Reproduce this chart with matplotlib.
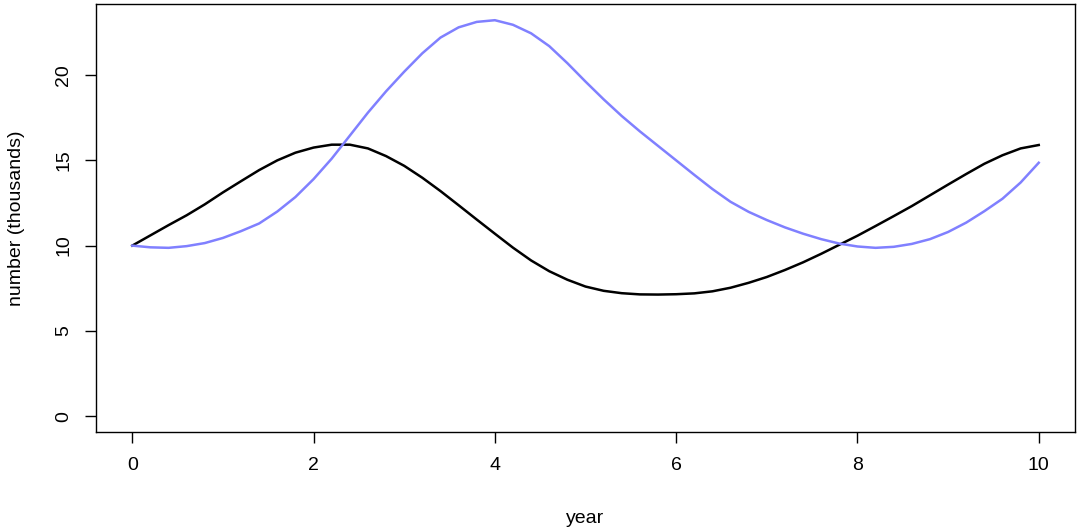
import numpy as np
import matplotlib
matplotlib.use("Agg")
import matplotlib.pyplot as plt

plt.rcParams["font.family"] = ["Liberation Sans", "DejaVu Sans"]
plt.rcParams["font.size"] = 14

# values, every 0.2 year
year = np.arange(0, 10.01, 0.2)
prey = [10.0, 10.6, 11.2, 11.78, 12.42, 13.12, 13.78, 14.43, 15.0, 15.45,
        15.75, 15.92, 15.92, 15.7, 15.25, 14.68, 13.98, 13.2, 12.37, 11.53,
        10.7, 9.88, 9.13, 8.5, 8.0, 7.6, 7.35, 7.21, 7.14, 7.13,
        7.15, 7.2, 7.32, 7.53, 7.82, 8.16, 8.57, 9.02, 9.52, 10.05,
        10.58, 11.15, 11.73, 12.32, 12.95, 13.58, 14.2, 14.8, 15.3, 15.7,
        15.9]
pred = [10.0, 9.9, 9.87, 9.97, 10.15, 10.45, 10.85, 11.3, 12.0, 12.85,
        13.9, 15.1, 16.45, 17.8, 19.05, 20.2, 21.28, 22.2, 22.8, 23.12,
        23.22, 22.95, 22.45, 21.7, 20.7, 19.62, 18.58, 17.6, 16.7, 15.85,
        15.0, 14.15, 13.32, 12.57, 11.98, 11.5, 11.07, 10.7, 10.38, 10.12,
        9.95, 9.87, 9.93, 10.1, 10.38, 10.8, 11.35, 12.02, 12.75, 13.7,
        14.86]

fig = plt.figure(figsize=(10.8, 5.28), dpi=100)
ax = fig.add_axes([96/1080, 1-432/528, (1075-96)/1080, (432-4)/528])

ax.plot(year, prey, color="black", lw=1.8, solid_joinstyle="round")
ax.plot(year, pred, color="#8080ff", lw=1.8, solid_joinstyle="round")

ax.set_xlim(-0.4, 10.4)
ax.set_ylim(-0.93, 24.17)
ax.set_xticks([0, 2, 4, 6, 8, 10])
ax.set_yticks([0, 5, 10, 15, 20])
ax.tick_params(length=8, width=1, pad=10)
ax.tick_params(axis="y", pad=9)
plt.setp(ax.get_yticklabels(), rotation=90, va="center")
for s in ax.spines.values():
    s.set_linewidth(1)

ax.set_xlabel("year", labelpad=26)
ax.set_ylabel("number (thousands)", labelpad=22)

fig.savefig("out.png", dpi=100)
